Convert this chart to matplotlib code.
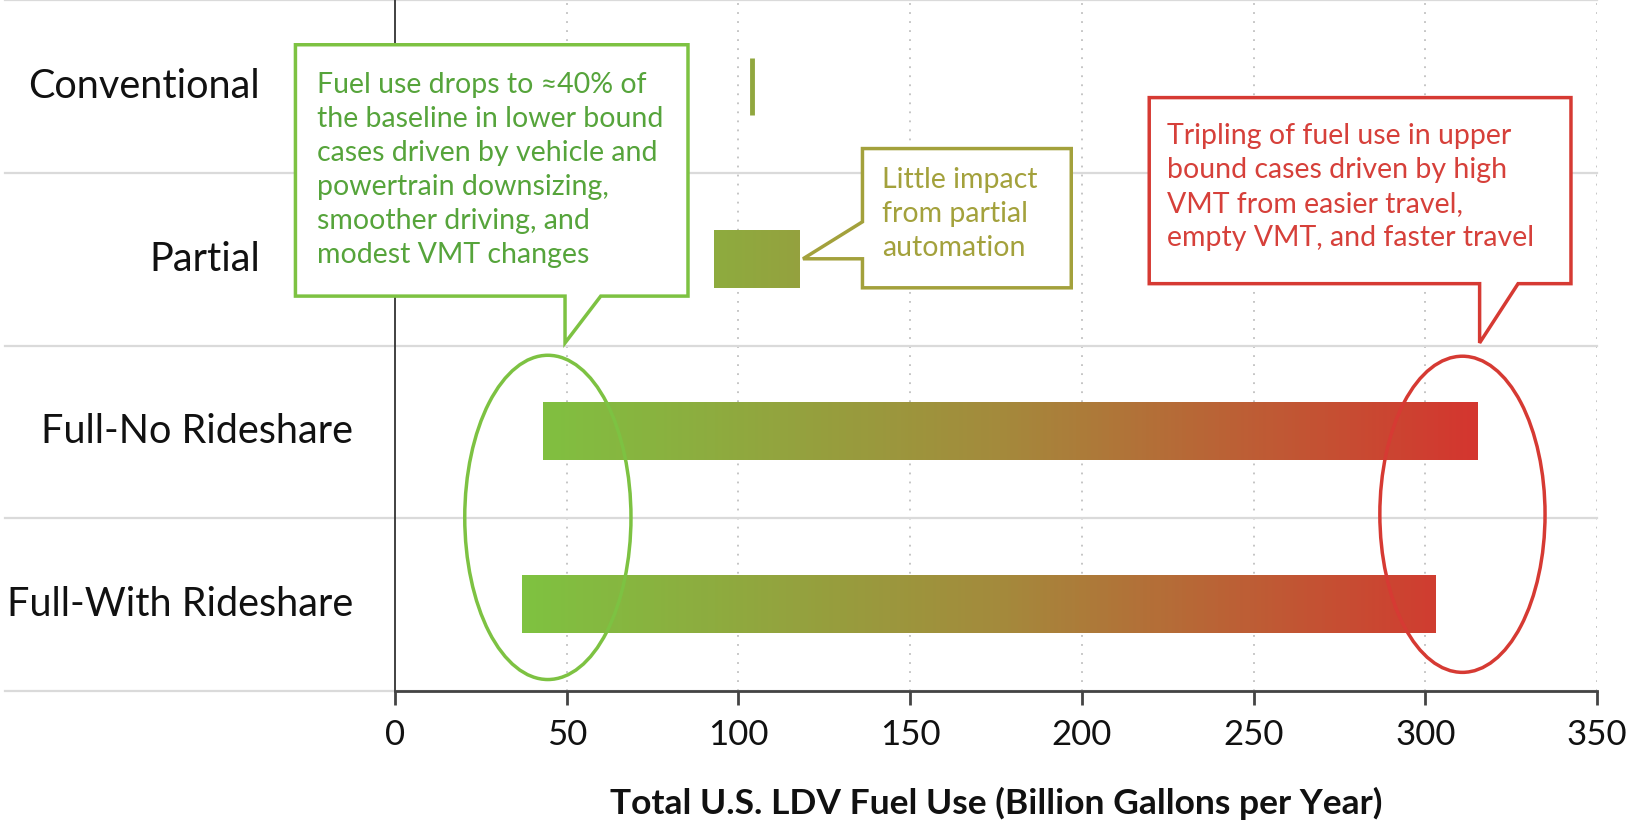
import matplotlib.pyplot as plt
import numpy as np
from matplotlib.colors import LinearSegmentedColormap, Normalize
from matplotlib.patches import Polygon, Ellipse
from matplotlib.transforms import blended_transform_factory

plt.rcParams['font.family'] = ['Lato', 'DejaVu Sans']

levels = ['Conventional', 'Partial', 'Full-No Rideshare', 'Full-With Rideshare']
fuel_low = [104, 93, 43, 37]
fuel_high = [104, 118, 315, 303]
xticks = [0, 50, 100, 150, 200, 250, 300, 350]

note_green = ('Fuel use drops to \u224840% of\nthe baseline in lower bound\n'
              'cases driven by vehicle and\npowertrain downsizing,\n'
              'smoother driving, and\nmodest VMT changes')
note_olive = 'Little impact\nfrom partial\nautomation'
note_red = ('Tripling of fuel use in upper\nbound cases driven by high\n'
            'VMT from easier travel,\nempty VMT, and faster travel')

green = '#7dc242'
olive = '#a3a13c'
red = '#d63a33'
cmap = LinearSegmentedColormap.from_list('fuel', ['#7fc241', '#a48a3c', '#d4362f'])
norm = Normalize(vmin=37, vmax=315)

fig = plt.figure(figsize=(16.29, 8.25), dpi=100)
ax = fig.add_axes([0.2425, 0.1624, 0.7379, 0.8376])

ypos = np.arange(len(levels))
h = 0.33

for y, lo, hi in zip(ypos, fuel_low, fuel_high):
    if hi > lo:
        vals = np.linspace(lo, hi, 256)[None, :]
        ax.imshow(vals, cmap=cmap, norm=norm, aspect='auto',
                  extent=(lo, hi, y + h / 2, y - h / 2), zorder=3)
    else:
        ax.vlines(lo, y - h / 2, y + h / 2, color=cmap(norm(lo)), lw=3.5, zorder=3)

ax.set_xlim(0, 350)
ax.set_ylim(3.5, -0.5)
ax.set_xticks(xticks)
ax.set_yticks([])
for x in xticks[1:]:
    ax.axvline(x, color='#c0c0c0', lw=1.3, ls=(0, (1, 4)), zorder=1)

# row separators reach into the label area
trans = blended_transform_factory(fig.transFigure, ax.transData)
for yb in np.arange(-0.5, 3.6, 1.0):
    ax.plot([0.003, 0.9804], [yb, yb], color='#dadada', lw=1.6,
            transform=trans, clip_on=False, zorder=1)

label_right = [0.1596, 0.1596, 0.2168, 0.2168]
for y, lab, xr in zip(ypos, levels, label_right):
    ax.text(xr, y, lab, transform=trans, ha='right', va='center',
            fontsize=28.5, color='#111111')

for s in ['top', 'right']:
    ax.spines[s].set_visible(False)
ax.spines['left'].set_color('#333333')
ax.spines['left'].set_linewidth(1.3)
ax.spines['bottom'].set_color('#444444')
ax.spines['bottom'].set_linewidth(2)
ax.tick_params(axis='x', length=10, width=2, color='#444444', pad=10,
               labelsize=25, labelcolor='#111111')

ax.set_xlabel('Total U.S. LDV Fuel Use (Billion Gallons per Year)',
              fontsize=25.5, fontweight='bold', color='#111111')
ax.xaxis.set_label_coords(0.5, -0.162)
ax.xaxis.label.set_verticalalignment('center')

# callout boxes
box_green = [(-29.0, -0.241), (85.3, -0.241), (85.3, 1.214), (59.9, 1.214),
             (49.5, 1.485), (49.5, 1.214), (-29.0, 1.214)]
box_olive = [(136.1, 0.360), (196.9, 0.360), (196.9, 1.166), (136.1, 1.166),
             (136.1, 0.998), (118.8, 0.998), (136.1, 0.784)]
box_red = [(219.6, 0.065), (342.4, 0.065), (342.4, 1.142), (327.0, 1.142),
           (315.8, 1.485), (315.8, 1.142), (219.6, 1.142)]
for pts, col in [(box_green, green), (box_olive, olive), (box_red, red)]:
    ax.add_patch(Polygon(pts, closed=True, facecolor='white', edgecolor=col,
                         lw=2.5, zorder=5, clip_on=False))

ax.text(-22.7, 0.485, note_green, color='#56a43b', fontsize=20.5,
        va='center', ha='left', linespacing=1.38, zorder=6)
ax.text(141.9, 0.739, note_olive, color='#a3a13c', fontsize=20.5,
        va='center', ha='left', linespacing=1.38, zorder=6)
ax.text(224.7, 0.580, note_red, color='#d6403a', fontsize=20.5,
        va='center', ha='left', linespacing=1.38, zorder=6)

ax.add_patch(Ellipse((44.5, 2.495), 48.4, 1.877, fill=False, edgecolor=green,
                     lw=2.5, zorder=4))
ax.add_patch(Ellipse((310.8, 2.477), 48.1, 1.83, fill=False, edgecolor=red,
                     lw=2.5, zorder=4))

plt.savefig('out.png', dpi=100)
